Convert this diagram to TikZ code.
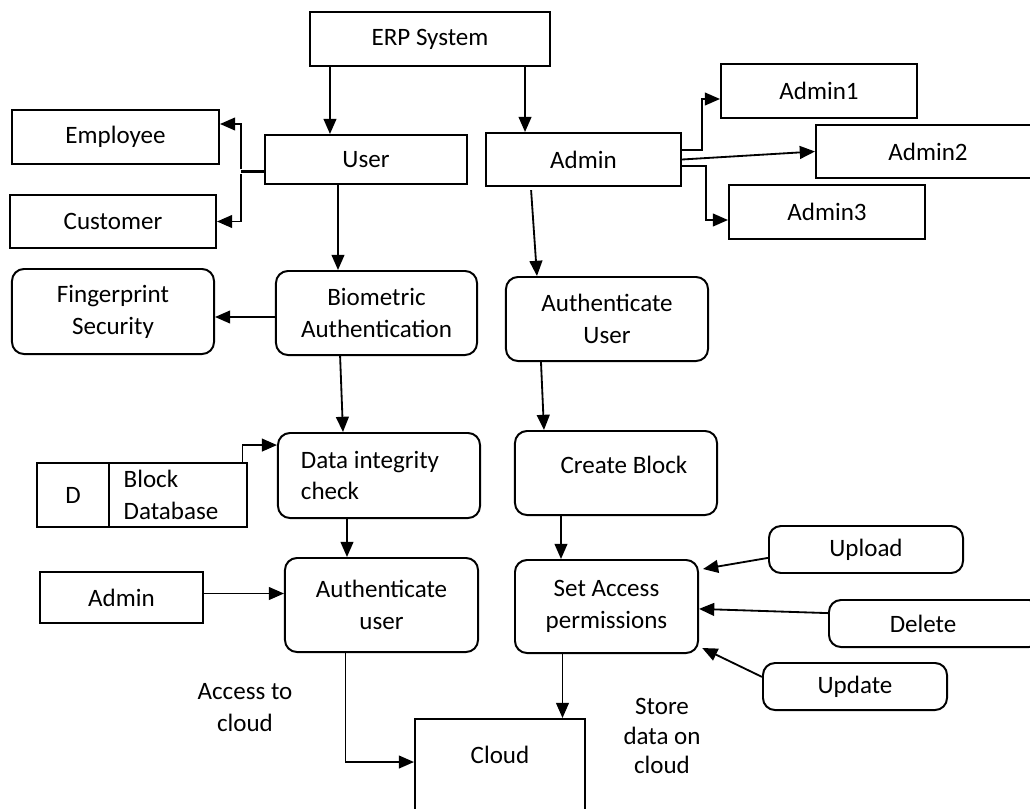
\documentclass[tikz,border=0pt]{standalone}
\usepackage{fontspec}
\setmainfont{Carlito}
\usepackage{tikz}
\usetikzlibrary{arrows.meta,positioning,calc}

\begin{document}
\begin{tikzpicture}[x=0.025cm,y=-0.025cm,
    every node/.style={font=\fontsize{17.8}{22.7}\selectfont},
    box/.style={draw, line width=1.4pt, inner sep=2pt},
    roundbox/.style={box, rounded corners=0.3cm, align=center},
    flow/.style={line width=1.3pt, -{Triangle[length=0.38cm,width=0.32cm]}}]
\useasboundingbox (0,0) rectangle (1030,808);

% top level
\node[box, minimum width=6cm, minimum height=1.35cm] (erp) at (430,39) {ERP System};
\node[box, minimum width=5.05cm, minimum height=1.225cm] (user) at (366,159.5) {User};
\node[box, minimum width=4.875cm, minimum height=1.325cm] (admin) at (583.5,159.5) {Admin};
\node[box, minimum width=5.175cm, minimum height=1.35cm] (employee) at (115.5,137) {Employee};
\node[box, minimum width=5.15cm, minimum height=1.325cm] (customer) at (113,221.5) {Customer};
\node[box, minimum width=4.9cm, minimum height=1.35cm] (admin1) at (819,91) {Admin1\\[0.2cm]};
\node[box, minimum width=5.6cm, minimum height=1.325cm] (admin2) at (928,151.5) {Admin2\hspace{0.6cm}};
\node[box, minimum width=4.9cm, minimum height=1.35cm] (admin3) at (827,212) {Admin3\\[0.15cm]};

% user side
\node[roundbox, minimum width=5.05cm, minimum height=2.125cm] (finger) at (113,311.5) {Fingerprint\\Security};
\node[roundbox, minimum width=5.025cm, minimum height=2.1cm] (bio) at (376.5,313) {Biometric\\Authentication};
\node[roundbox, align=left, minimum width=5.05cm, minimum height=2.125cm] (dic) at (379,475.5) {Data integrity\hspace*{0.45cm}\\check};
\node[box, minimum width=1.8cm, minimum height=1.6cm] (storeD) at (73,495) {D};
\node[box, line width=0.8pt, align=left, minimum width=3.45cm, minimum height=1.6cm] (storeN) at (178,495) {Block\\Database\hspace*{0.35cm}};
\node[box, minimum width=4.075cm, minimum height=1.275cm] (adminL) at (121.5,597.5) {Admin};
\node[roundbox, minimum width=4.825cm, minimum height=2.35cm] (authL) at (381.5,605) {Authenticate\\user};

% admin side
\node[roundbox, minimum width=5.05cm, minimum height=2.1cm] (authU) at (607,319) {Authenticate\\User};
\node[roundbox, minimum width=5.05cm, minimum height=2.1cm] (create) at (616,473) {\hspace{0.4cm}Create Block\\[-0.4cm]};
\node[roundbox, minimum width=4.575cm, minimum height=2.325cm] (setacc) at (606.5,606.5) {Set Access\\permissions};
\node[roundbox, minimum width=4.85cm, minimum height=1.175cm] (upload) at (866,549.5) {Upload};
\node[roundbox, minimum width=5.3cm, minimum height=1.175cm] (delete) at (935,623.5) {Delete\hspace{0.6cm}};
\node[roundbox, minimum width=4.6cm, minimum height=1.175cm] (update) at (855,686.5) {Update};

% cloud
\node[box, anchor=north, inner sep=0pt, minimum width=4.25cm, text height=1.1cm, text depth=1.8cm] (cloud) at (500,718) {Cloud};
\node[align=center] (accesslbl) at (245,708) {Access to\\cloud};
\node[align=center, font=\fontsize{17.8}{21}\selectfont] (storelbl) at (662,736) {Store\\data on\\cloud};

% connectors
\draw[flow] ([xshift=-2.5cm]erp.south) -- ([xshift=-2.5cm]erp.south |- user.north);
\draw[flow] ([xshift=2.375cm]erp.south) -- ([xshift=2.375cm]erp.south |- admin.north);
\draw[line width=2.6pt] ([yshift=-0.3cm]user.west) -- ++(-0.575cm,0) coordinate (fork);
\draw[flow] ([yshift=0.06cm]fork) |- ([yshift=0.325cm]employee.east);
\draw[flow] ([yshift=-0.06cm]fork) |- (customer.east);
\draw[flow] ([yshift=0.24cm]admin.east) -- ++(0.5cm,0) |- ([yshift=-0.2cm]admin1.west);
\draw[flow] (admin.east) -- (admin2.west);
\draw[flow] ([yshift=-0.16cm]admin.east) -- ++(0.6cm,0) |- ([yshift=-0.2cm]admin3.west);
\draw[flow] ([xshift=-0.7cm]user.south) -- ([xshift=-0.7cm]user.south |- bio.north);
\draw[flow] ([yshift=-0.1cm]bio.west) -- ([yshift=-0.1cm]bio.west -| finger.east);
\draw[flow] ([xshift=-0.91cm]bio.south) -- ([xshift=-0.9cm]dic.north);
\draw[flow] ([xshift=-0.125cm]storeN.north east) |- ($(dic.north west)!0.15!(dic.south west)$);
\draw[flow] ([xshift=-0.8cm]dic.south) -- ([xshift=-0.8cm]dic.south |- authL.north);
\draw[flow] ([yshift=0.1cm]adminL.east) -- ([yshift=0.1cm]adminL.east -| authL.west);
\draw[flow] ([xshift=-0.9cm]authL.south) |- ([yshift=-1.1cm]cloud.north west);
\draw[flow] ([xshift=-1.31cm,yshift=-0.08cm]admin.south) -- ([xshift=-1.75cm]authU.north);
\draw[flow] ([xshift=-1.65cm]authU.south) -- ([xshift=-1.8cm]create.north);
\draw[flow] ([xshift=-1.375cm]create.south) -- ([xshift=-1.375cm]create.south |- setacc.north);
\draw[flow] ([xshift=-1.1cm]setacc.south) -- ([xshift=-1.1cm]setacc.south |- cloud.north);
\draw[flow] ([yshift=-0.21cm]upload.west) -- ([xshift=0.1cm,yshift=-0.25cm]setacc.north east);
\draw[flow] ([yshift=0.26cm]delete.west) -- ([yshift=-0.06cm]setacc.east);
\draw[flow] ([yshift=0.24cm]update.west) -- ([xshift=0.08cm,yshift=0.15cm]setacc.south east);
\end{tikzpicture}
\end{document}
